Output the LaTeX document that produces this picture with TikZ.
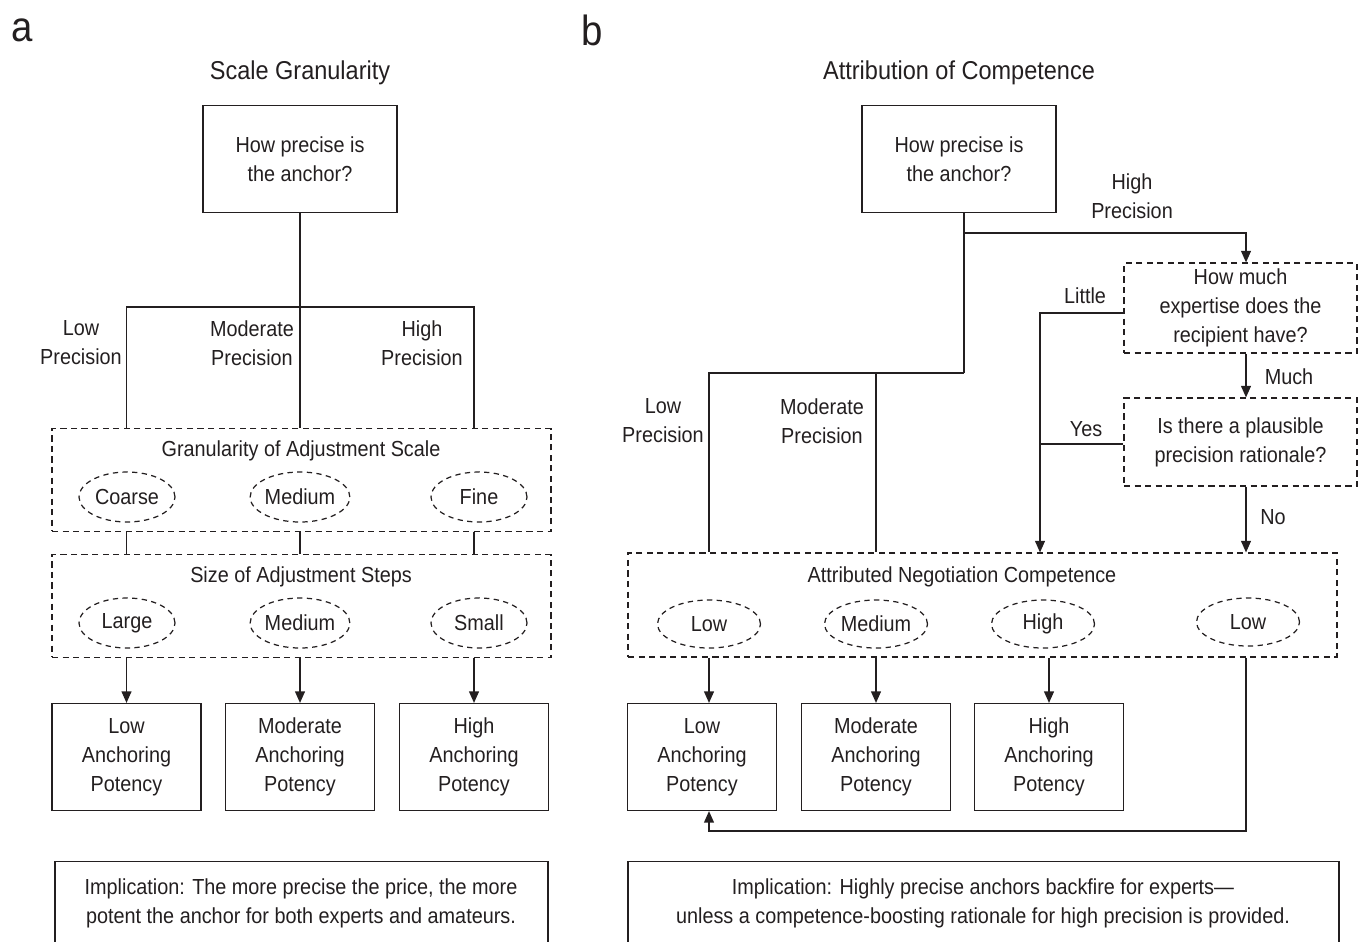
\documentclass[tikz,border=0pt]{standalone}
\usepackage{fontspec}
\setmainfont{Liberation Sans}[FakeStretch=0.91]
\usepackage{tikz}
\usetikzlibrary{
  shapes.geometric,
  arrows.meta,
  positioning
}
\definecolor{InkGray}{RGB}{35, 31, 32}

\begin{document}
\begin{tikzpicture}[
  x=0.02cm, y=-0.02cm,
  every node/.style={
    text=InkGray,
    font=\fontsize{12.4}{16.5}\selectfont},
  panel/.style={
    font=\fontsize{24}{28}\selectfont},
  heading/.style={
    font=\fontsize{14.7}{17}\selectfont},
  question/.style={
    draw=InkGray, line width=0.7pt,
    align=center,
    minimum width=3.88cm,
    minimum height=2.13cm},
  outcome/.style={
    draw=InkGray, line width=0.7pt,
    align=center,
    minimum width=2.98cm,
    minimum height=2.14cm},
  probe/.style={
    draw=InkGray, line width=0.7pt,
    dash pattern=on 3.5pt off 2.5pt,
    align=center,
    minimum width=4.66cm},
  group/.style={
    draw=InkGray, line width=0.7pt,
    dash pattern=on 3.5pt off 2.5pt,
    minimum height=2.05cm},
  level/.style={
    ellipse, draw=InkGray, line width=0.7pt,
    dash pattern=on 3pt off 2.5pt,
    inner sep=0pt,
    minimum width=1.92cm,
    minimum height=1cm},
  wlevel/.style={
    level,
    minimum width=2.06cm,
    minimum height=0.96cm},
  implication/.style={
    draw=InkGray, line width=0.7pt,
    anchor=north,
    minimum height=2.4cm},
  tag/.style={
    align=center},
  link/.style={
    InkGray, line width=0.7pt},
  arrow/.style={
    InkGray, line width=0.7pt,
    -{Triangle[length=6.5pt,width=5.6pt]}}
]
\useasboundingbox (0,0) rectangle (1361,941);

\node[panel] (pa) at (22,30) {a};
\node[panel] (pb) at (592,30) {b};

\node[heading] (ta) at (300,73) {Scale Granularity};
\node[heading] (tb) at (959,73) {Attribution of Competence};

\node[question] (qa) at (300,159)
  {How precise is\\the anchor?};
\node[question] (qb) at (959,159)
  {How precise is\\the anchor?};

\node[group, minimum width=9.98cm] (ga) at (301.5,480) {};
\node (gatitle) at (301,451) {Granularity of Adjustment Scale};
\node[level] (coarse) at (127,497) {Coarse};
\node[level] (mediuma) at (300,497) {Medium};
\node[level] (fine) at (479,497) {Fine};

\node[group, minimum width=9.98cm] (sa) at (301.5,606) {};
\node (satitle) at (301,577) {Size of Adjustment Steps};
\node[level] (large) at (127,623) {Large};
\node[level] (mediumb) at (300,623) {Medium};
\node[level] (small) at (479,623) {Small};

\node[outcome] (loa) at (126.5,757)
  {Low\\Anchoring\\Potency};
\node[outcome] (moa) at (300,757)
  {Moderate\\Anchoring\\Potency};
\node[outcome] (hia) at (474,757)
  {High\\Anchoring\\Potency};

\node[tag] (lpa) at (81,343) {Low\\Precision};
\node[tag] (mpa) at (252,343) {Moderate\\Precision};
\node[tag] (hpa) at (422,343) {High\\Precision};

\node[implication, minimum width=9.86cm] (impa) at (301.5,861) {};
\node[tag] (impatext) at (301,903)
  {Implication: The more precise the price, the more\\
  potent the anchor for both experts and amateurs.};

\node[probe, minimum height=1.8cm] (expertise) at (1240.5,308)
  {How much\\expertise does the\\recipient have?};
\node[probe, minimum height=1.76cm] (plausible) at (1240.5,442)
  {Is there a plausible\\precision rationale?};

\node[group, minimum width=14.18cm, minimum height=2.08cm] (anc) at (982.5,605) {};
\node (anctitle) at (962,577) {Attributed Negotiation Competence};
\node[wlevel] (lowb) at (709,624) {Low};
\node[wlevel] (medb) at (876,624) {Medium};
\node[wlevel] (highb) at (1043,624) {High};
\node[wlevel] (lowr) at (1248,622) {Low};

\node[outcome] (lob) at (702,757)
  {Low\\Anchoring\\Potency};
\node[outcome] (mob) at (876,757)
  {Moderate\\Anchoring\\Potency};
\node[outcome] (hib) at (1049,757)
  {High\\Anchoring\\Potency};

\node[tag] (lpb) at (663,421) {Low\\Precision};
\node[tag] (mpb) at (822,421) {Moderate\\Precision};
\node[tag] (hpb) at (1132,196) {High\\Precision};
\node (little) at (1085,296) {Little};
\node (much) at (1289,377) {Much};
\node (yes) at (1086,429) {Yes};
\node (no) at (1273,517) {No};

\node[implication, minimum width=14.22cm] (impb) at (983.5,861) {};
\node[tag] (impbtext) at (983,903)
  {Implication: Highly precise anchors backfire for experts---\\
  unless a competence-boosting rationale for high precision is provided.};

\coordinate (ja) at (300,307);
\coordinate (jb) at (964,233);
\coordinate (kb) at (964,373);
\coordinate (colb) at (1246,0);
\coordinate (fb) at (0,831);
\coordinate (sideb) at (1040,0);

\draw[link] (qa.south) -- (ga.north -| qa);
\draw[link] (ga.north -| loa) |- (ja) -| (ga.north -| hia);
\foreach \o in {loa,moa,hia}{
  \draw[link] (ga.south -| \o) -- (sa.north -| \o);
  \draw[arrow] (sa.south -| \o) -- (\o.north);
}

\draw[link] (qb.south -| jb) -- (kb);
\draw[arrow] (jb) -| (expertise.north -| colb);
\draw[link] (kb) -| (anc.north -| lowb);
\draw[link] (kb -| medb) -- (anc.north -| medb);
\draw[arrow] (expertise.south -| colb) -- (plausible.north -| colb);
\draw[arrow] (plausible.south -| colb) -- (anc.north -| colb);
\draw[arrow] (expertise.west |- 0,313) -| (anc.north -| sideb);
\draw[link] (plausible.west |- 0,444) -- (sideb |- 0,444);
\foreach \e/\o in {lowb/lob,mob/mob,hib/hib}{
  \draw[arrow] (anc.south -| \e) -- (\o.north -| \e);
}
\draw[arrow] (anc.south -| colb) |- (fb -| lowb) -- (lob.south -| lowb);
\end{tikzpicture}
\end{document}
